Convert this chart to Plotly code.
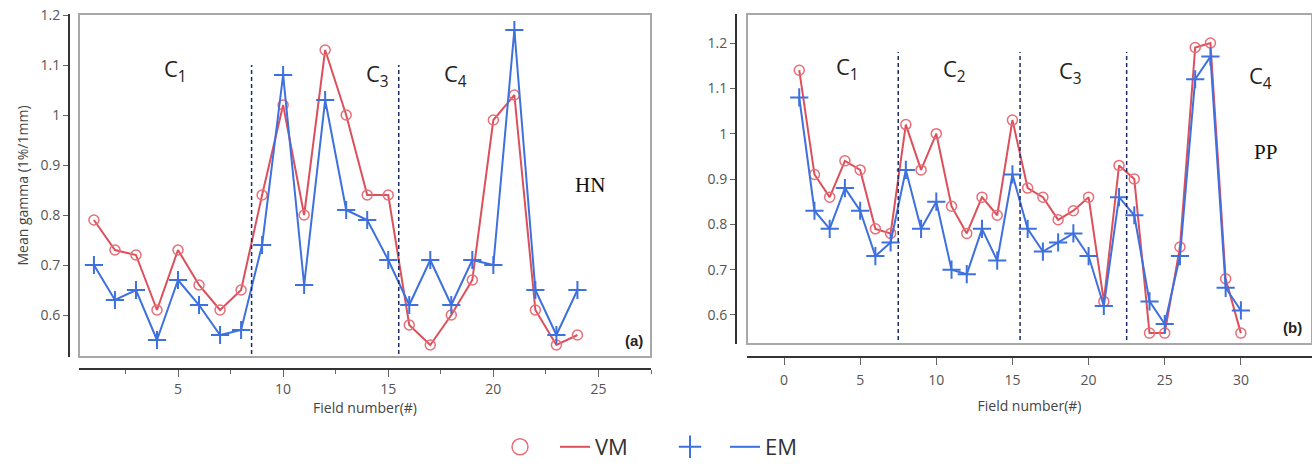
import plotly.graph_objects as go

# ---------------- data ----------------
field_a = list(range(1, 25))
vm_a = [0.79, 0.73, 0.72, 0.61, 0.73, 0.66, 0.61, 0.65, 0.84, 1.02, 0.80, 1.13,
        1.00, 0.84, 0.84, 0.58, 0.54, 0.60, 0.67, 0.99, 1.04, 0.61, 0.54, 0.56]
em_a = [0.70, 0.63, 0.65, 0.55, 0.67, 0.62, 0.56, 0.57, 0.74, 1.08, 0.66, 1.03,
        0.81, 0.79, 0.71, 0.62, 0.71, 0.62, 0.71, 0.70, 1.17, 0.65, 0.56, 0.65]

field_b = list(range(1, 31))
vm_b = [1.14, 0.91, 0.86, 0.94, 0.92, 0.79, 0.78, 1.02, 0.92, 1.00, 0.84, 0.78,
        0.86, 0.82, 1.03, 0.88, 0.86, 0.81, 0.83, 0.86, 0.63, 0.93, 0.90, 0.56,
        0.56, 0.75, 1.19, 1.20, 0.68, 0.56]
em_b = [1.08, 0.83, 0.79, 0.88, 0.83, 0.73, 0.76, 0.92, 0.79, 0.85, 0.70, 0.69,
        0.79, 0.72, 0.91, 0.79, 0.74, 0.76, 0.78, 0.73, 0.62, 0.86, 0.82, 0.63,
        0.58, 0.73, 1.12, 1.17, 0.66, 0.61]

bounds_a = [8.5, 15.5]
bounds_b = [7.5, 15.5, 22.5]

labels_a = [("C<sub>1</sub>", 4.9, 1.09), ("C<sub>3</sub>", 14.5, 1.08), ("C<sub>4</sub>", 18.2, 1.08)]
labels_b = [("C<sub>1</sub>", 4.2, 1.145), ("C<sub>2</sub>", 11.2, 1.14), ("C<sub>3</sub>", 18.8, 1.135),
            ("C<sub>4</sub>", 31.3, 1.125)]

yticks = [0.6, 0.7, 0.8, 0.9, 1.0, 1.1, 1.2]
yticktext = ["0.6", "0.7", "0.8", "0.9", "1", "1.1", "1.2"]
xticks_a = [5, 10, 15, 20, 25]
xticks_b = [0, 5, 10, 15, 20, 25, 30]

W, H = 1312, 466
RED = "rgb(220,80,92)"
RED_M = "rgb(232,110,120)"
BLUE = "rgb(62,112,222)"
NAVY = "#1c2c6a"
TICKC = "#555555"
FONT = "Open Sans, Noto Sans, sans-serif"

def px(x):
    return x / W

def py(y):
    return 1 - y / H

fig = go.Figure()

# main traces
for xs, vm, em, xa, ya in [(field_a, vm_a, em_a, "x", "y"), (field_b, vm_b, em_b, "x2", "y2")]:
    fig.add_trace(go.Scatter(x=xs, y=vm, mode="lines+markers", xaxis=xa, yaxis=ya,
                             line=dict(color=RED, width=2),
                             marker=dict(symbol="circle-open", size=10, color=RED_M, line=dict(width=1.5)),
                             showlegend=False))
    fig.add_trace(go.Scatter(x=xs, y=em, mode="lines+markers", xaxis=xa, yaxis=ya,
                             line=dict(color=BLUE, width=2),
                             marker=dict(symbol="cross-thin", size=13, color=BLUE, line=dict(width=2, color=BLUE)),
                             showlegend=False))

# legend-only traces (marker, then line + name), each in its own legend box
fig.add_trace(go.Scatter(x=[None], y=[None], mode="markers", name=" ", legend="legend",
                         marker=dict(symbol="circle-open", size=16, color=RED_M, line=dict(width=1.5))))
fig.add_trace(go.Scatter(x=[None], y=[None], mode="lines", name="VM", legend="legend2",
                         line=dict(color=RED, width=2)))
fig.add_trace(go.Scatter(x=[None], y=[None], mode="markers", name=" ", legend="legend3",
                         marker=dict(symbol="cross-thin", size=20, color=BLUE, line=dict(width=2, color=BLUE))))
fig.add_trace(go.Scatter(x=[None], y=[None], mode="lines", name="EM", legend="legend4",
                         line=dict(color=BLUE, width=2)))

shapes = []
annotations = []

# frames
for xr, yr in [("x", "y"), ("x2", "y2")]:
    shapes.append(dict(type="rect", xref=f"{xr} domain", yref=f"{yr} domain", x0=0, x1=1, y0=0, y1=1,
                       line=dict(color="#a8a8a8", width=2), layer="below"))

# dashed cluster boundaries
for b in bounds_a:
    shapes.append(dict(type="line", xref="x", yref="y", x0=b, x1=b, y0=0.522, y1=1.10,
                       line=dict(color=NAVY, width=1.5, dash="4px,3px")))
for b in bounds_b:
    shapes.append(dict(type="line", xref="x2", yref="y2", x0=b, x1=b, y0=0.545, y1=1.18,
                       line=dict(color=NAVY, width=1.5, dash="4px,3px")))

cfont = dict(family=FONT, size=22, color="#222")
for t, x, y in labels_a:
    annotations.append(dict(text=t, x=x, y=y, xref="x", yref="y", showarrow=False, font=cfont))
for t, x, y in labels_b:
    annotations.append(dict(text=t, x=x, y=y, xref="x2", yref="y2", showarrow=False, font=cfont))

sfont = dict(family="Liberation Serif, serif", size=21, color="#111")
annotations.append(dict(text="HN", x=24.6, y=0.86, xref="x", yref="y", showarrow=False, font=sfont))
annotations.append(dict(text="PP", x=31.6, y=0.96, xref="x2", yref="y2", showarrow=False, font=sfont))
bfont = dict(family="Liberation Sans, Arial, sans-serif", size=15, color="#222")
annotations.append(dict(text="<b>(a)</b>", x=26.7, y=0.55, xref="x", yref="y", showarrow=False, font=bfont))
annotations.append(dict(text="<b>(b)</b>", x=33.4, y=0.573, xref="x2", yref="y2", showarrow=False, font=bfont))

tickfont = dict(family=FONT, size=14, color=TICKC)
titlefont = dict(family=FONT, size=14, color="#444")
legfont = dict(family=FONT, size=22, color="#333")

def leg(xpix):
    return dict(orientation="h", x=px(xpix), xanchor="left", y=py(447), yanchor="middle",
                font=legfont, itemwidth=30, bgcolor="rgba(0,0,0,0)")

fig.update_layout(
    width=W, height=H, autosize=False,
    margin=dict(l=0, r=0, t=0, b=0, autoexpand=False),
    paper_bgcolor="white", plot_bgcolor="white",
    shapes=shapes, annotations=annotations,
    legend=leg(500), legend2=leg(555), legend3=leg(670), legend4=leg(725),
    xaxis=dict(domain=[px(79), px(651)], range=[0.29, 27.5], anchor="free", position=py(369),
               automargin=False,
               showline=True, linecolor="#333", linewidth=2, showgrid=False, zeroline=False,
               tickvals=xticks_a, ticks="outside", ticklen=7, tickcolor="#666", tickfont=tickfont,
               ticklabelstandoff=0,
               minor=dict(tick0=2.5, dtick=5, ticks="outside", ticklen=4, tickcolor="#666", showgrid=False),
               title=dict(text="Field number(#)", font=titlefont, standoff=5)),
    yaxis=dict(domain=[py(357), py(14)], range=[0.516, 1.202], anchor="free", position=px(69),
               automargin=False,
               showline=True, linecolor="#333", linewidth=2, showgrid=False, zeroline=False,
               tickvals=yticks, ticktext=yticktext,
               ticks="outside", ticklen=5, tickcolor="#666", tickfont=tickfont,
               title=dict(text="Mean gamma (1%/1mm)", font=titlefont, standoff=8)),
    xaxis2=dict(domain=[px(747), 1.0], range=[-2.43, 34.67], anchor="free", position=py(357),
                automargin=False,
                showline=True, linecolor="#333", linewidth=2, showgrid=False, zeroline=False,
                tickvals=xticks_b, ticks="outside", ticklen=7, tickcolor="#666",
                tickfont=tickfont, ticklabelstandoff=3,
                title=dict(text="Field number(#)", font=titlefont, standoff=12)),
    yaxis2=dict(domain=[py(344), py(14)], range=[0.536, 1.264], anchor="free", position=px(736),
                automargin=False,
                showline=True, linecolor="#333", linewidth=2, showgrid=False, zeroline=False,
                tickvals=yticks, ticktext=yticktext,
                ticks="outside", ticklen=5, tickcolor="#666", tickfont=tickfont),
)

fig.write_html("out.html")
